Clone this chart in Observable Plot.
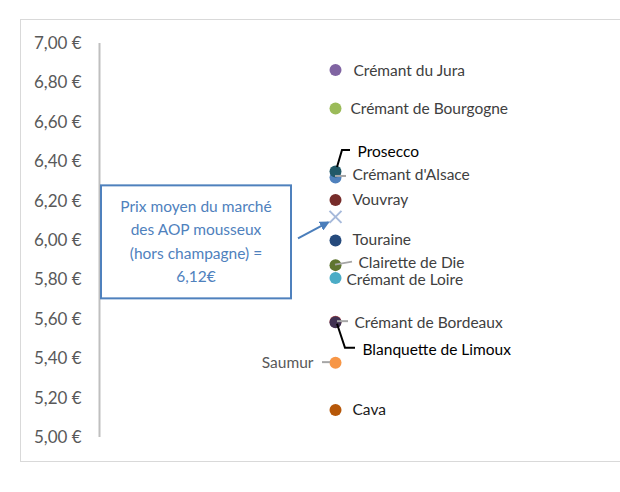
<!DOCTYPE html>
<html>
<head>
<meta charset="utf-8">
<script src="https://cdn.jsdelivr.net/npm/d3@7"></script>
<script src="https://cdn.jsdelivr.net/npm/@observablehq/plot@0.6"></script>
<style>
  html, body { margin: 0; padding: 0; background: #fff; }
  #wrap { position: relative; width: 620px; height: 492px; overflow: hidden; }
  #frame { position: absolute; left: 20px; top: 19px; width: 640px; height: 443px; border: 1.5px solid #d9d9d9; box-sizing: border-box; }
  #chart { position: absolute; left: 0; top: 0; }
  svg { font-family: Lato, "Open Sans", sans-serif; }
  g[aria-label="y-axis tick label"] text { font-size: 17px; fill: #595959; }
</style>
</head>
<body>
<div id="wrap"><div id="frame"></div><div id="chart"></div></div>
<script>
// ---- data ----
const categories = [
  "Crémant du Jura", "Crémant de Bourgogne", "Crémant d'Alsace", "Prosecco",
  "Vouvray", "Touraine", "Clairette de Die", "Crémant de Loire",
  "Crémant de Bordeaux", "Blanquette de Limoux", "Saumur", "Cava"
];
const prices = [6.865, 6.67, 6.32, 6.35, 6.205, 6.00, 5.875, 5.81, 5.588, 5.585, 5.38, 5.14];
const pointColors = [
  "#8064a2", "#9bbb59", "#4f81bd", "#215968",
  "#772c2a", "#254a7c", "#5f7530", "#4bacc6",
  "#c0504d", "#403152", "#f79646", "#b65708"
];
const meanPrice = 6.12;
const meanText = ["Prix moyen du marché", "des AOP mousseux", "(hors champagne) =", "6,12€"];
const yTicks = [5.0, 5.2, 5.4, 5.6, 5.8, 6.0, 6.2, 6.4, 6.6, 6.8, 7.0];

// ---- label layout (styling) ----
const labelStyle = {
  "Crémant du Jura":      {dx: 18, dy: 1,  anchor: "start", fill: "#404040"},
  "Crémant de Bourgogne": {dx: 15, dy: 1,  anchor: "start", fill: "#404040"},
  "Prosecco":             {dx: 22, dy: -20, anchor: "start", fill: "#000000", leader: [[2,-4],[7,-21],[15,-21]], lc: "#000"},
  "Crémant d'Alsace":     {dx: 17, dy: -2, anchor: "start", fill: "#404040", leader: [[0,-1],[11,-1]], lc: "#a6a6a6"},
  "Vouvray":              {dx: 17, dy: 0,  anchor: "start", fill: "#404040"},
  "Touraine":             {dx: 17, dy: 0,  anchor: "start", fill: "#404040"},
  "Clairette de Die":     {dx: 23, dy: -2, anchor: "start", fill: "#404040", leader: [[0,0],[17,-3]], lc: "#a6a6a6"},
  "Crémant de Loire":     {dx: 11, dy: 2,  anchor: "start", fill: "#404040"},
  "Crémant de Bordeaux":  {dx: 19, dy: 1,  anchor: "start", fill: "#404040", leader: [[2,0],[13,0]], lc: "#a6a6a6"},
  "Blanquette de Limoux": {dx: 27, dy: 28, anchor: "start", fill: "#000000", leader: [[2,2],[10,26],[20,26]], lc: "#000"},
  "Saumur":               {dx: -22, dy: 0, anchor: "end",   fill: "#595959", leader: [[-5,0],[-13,0]], lc: "#a6a6a6"},
  "Cava":                 {dx: 17, dy: 0,  anchor: "start", fill: "#1a1a1a"}
};

const rows = categories.map((c, i) => ({name: c, price: prices[i], color: pointColors[i], x: 1}));

const labelMarks = rows.map(r => {
  const s = labelStyle[r.name];
  return Plot.text([r], {x: "x", y: "price", text: "name", dx: s.dx, dy: s.dy,
    textAnchor: s.anchor, fill: s.fill, fontSize: 15.5});
});

const chart = Plot.plot({
  width: 620, height: 492,
  marginTop: 43, marginBottom: 55, marginLeft: 99, marginRight: 49,
  x: {domain: [0, 2], axis: null},
  y: {domain: [5, 7]},
  marks: [
    Plot.axisY({ticks: yTicks, tickSize: 0, tickPadding: 18, label: null,
      tickFormat: d => d.toFixed(2).replace(".", ",") + "\u202f€"}),
    Plot.ruleX([0], {y1: 5, y2: 7, stroke: "#bfbfbf", strokeWidth: 2}),
    Plot.dot([{x: 1, price: meanPrice}], {x: "x", y: "price", symbol: "times", r: 5.5, stroke: "#a6b9da", strokeWidth: 2}),
    Plot.dot(rows, {x: "x", y: "price", r: 6, fill: "color", stroke: "none"}),
    ...labelMarks
  ]
});
document.getElementById("chart").appendChild(chart);

// ---- leaders and annotation, positioned through Plot's scales ----
const sx = chart.scale("x"), sy = chart.scale("y");
const svg = d3.select(chart);
const g = svg.append("g");
rows.forEach(r => {
  const s = labelStyle[r.name];
  if (!s.leader) return;
  const px = sx.apply(r.x), py = sy.apply(r.price);
  g.append("path")
    .attr("d", d3.line()(s.leader.map(([a, b]) => [px + a, py + b])))
    .attr("fill", "none").attr("stroke", s.lc).attr("stroke-width", 2);
});

const mx = sx.apply(1), my = sy.apply(meanPrice);
const bx = mx - 234, by = my - 31, bw = 190, bh = 113;
const ann = svg.append("g");
ann.append("rect").attr("x", bx).attr("y", by).attr("width", bw).attr("height", bh)
  .attr("fill", "#fff").attr("stroke", "#4f81bd").attr("stroke-width", 2);
meanText.forEach((t, i) => {
  ann.append("text").attr("x", bx + bw / 2).attr("y", by + 21 + i * 23.5)
    .attr("text-anchor", "middle").attr("dy", "0.35em")
    .attr("fill", "#4f81bd").attr("font-size", 15.5).text(t);
});
svg.append("defs").html('<marker id="ah" viewBox="0 0 10 10" refX="8" refY="5" markerWidth="5" markerHeight="5" orient="auto"><path d="M0,0L10,5L0,10z" fill="#4a7ebb"/></marker>');
ann.append("line").attr("x1", mx - 37).attr("y1", my + 22).attr("x2", mx - 7).attr("y2", my + 6)
  .attr("stroke", "#4a7ebb").attr("stroke-width", 2).attr("marker-end", "url(#ah)");
</script>
</body>
</html>
